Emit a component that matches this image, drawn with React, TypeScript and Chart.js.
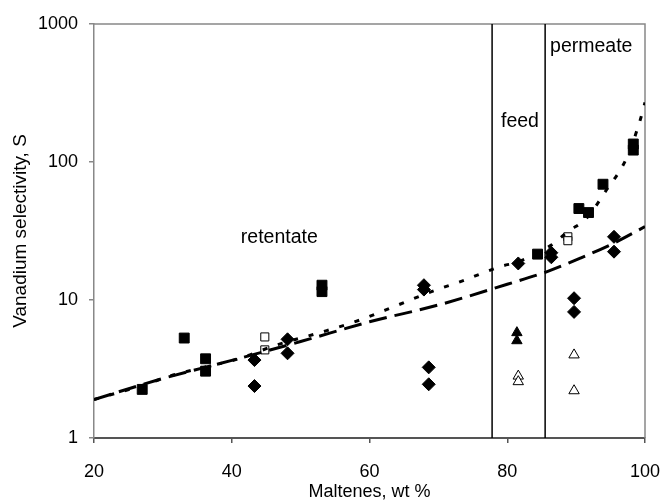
import React, { useEffect, useRef } from "react";
import { Chart, registerables } from "chart.js";

Chart.register(...registerables);

// Measured selectivity, grouped by marker type
const filledSquareX = [27, 33.1, 36.2, 36.2, 53.1, 53.1, 84.4, 90.4, 91.8, 93.9, 98.3, 98.3];
const filledSquareY = [2.25, 5.3, 3.75, 3.05, 12.8, 11.5, 21.5, 46, 43, 69, 122, 135];

const openSquareX = [44.8, 44.8, 88.8, 88.8];
const openSquareY = [5.4, 4.35, 28.7, 26.9];

const diamondX = [43.3, 43.3, 48.1, 48.1, 67.9, 67.9, 68.6, 68.6, 81.6, 86.4, 86.4, 89.7, 89.7, 95.5, 95.5];
const diamondY = [3.67, 2.38, 5.19, 4.11, 12.8, 11.9, 3.25, 2.45, 18.4, 22.0, 20.4, 10.3, 8.2, 28.7, 22.4];

const filledTriangleX = [81.4, 81.4];
const filledTriangleY = [5.8, 5.07];

const openTriangleX = [81.6, 81.6, 89.7, 89.7];
const openTriangleY = [2.81, 2.56, 4.0, 2.2];

// Trend curves
const longDashX = [20, 30, 40, 50, 60, 70, 80, 85.7, 90.6, 95.4, 100];
const longDashY = [1.9, 2.7, 3.65, 5.0, 6.95, 9.2, 13.0, 16.0, 20.1, 25.7, 34];

const shortDashX = [20, 27.2, 31.5, 35.4, 41.2, 46.5, 53.3, 58.6, 63.9, 69, 74.1, 76.3, 79.2, 81.6, 86.4, 88.8, 91.5, 94.4, 97.3, 99.3, 100];
const shortDashY = [1.9, 2.42, 2.86, 3.2, 3.78, 4.72, 5.9, 7.16, 9.1, 11.5, 14.1, 15.6, 17.6, 18.9, 25, 31.3, 39.1, 62.7, 106, 201, 270];

// Boundaries of the feed region (wt % maltenes)
const feedBounds = [77.8, 85.5];

// Axis ticks
const xTicks = [20, 40, 60, 80, 100];
const yTicks = [1, 10, 100, 1000];

// Region labels placed in data coordinates
const regionNames = ["retentate", "feed", "permeate"];
const regionX = [46.9, 81.85, 92.2];
const regionY = [28.2, 195, 680];

const FONT = "'Liberation Sans', Arial, sans-serif";

const pts = (xs: number[], ys: number[]) => xs.map((x, i) => ({ x, y: ys[i] }));

const frameAndLabels = {
  id: "frameAndLabels",
  beforeDatasetsDraw(chart: any) {
    const { ctx, chartArea: a } = chart;
    ctx.save();
    ctx.strokeStyle = "#888";
    ctx.lineWidth = 1.5;
    ctx.beginPath();
    ctx.moveTo(a.left, a.top);
    ctx.lineTo(a.right, a.top);
    ctx.lineTo(a.right, a.bottom);
    ctx.stroke();
    ctx.restore();
  },
  afterDatasetsDraw(chart: any) {
    const { ctx, scales } = chart;
    ctx.save();
    ctx.fillStyle = "#000";
    ctx.font = `19.5px ${FONT}`;
    ctx.textAlign = "center";
    ctx.textBaseline = "middle";
    regionNames.forEach((name, i) => {
      ctx.fillText(name, scales.x.getPixelForValue(regionX[i]), scales.y.getPixelForValue(regionY[i]));
    });
    ctx.restore();
  },
};

export default function App() {
  const ref = useRef<HTMLCanvasElement | null>(null);

  useEffect(() => {
    if (!ref.current) return;
    const markers = (data: any, style: any, radius: number, filled: boolean) => ({
      type: "scatter",
      data,
      showLine: false,
      pointStyle: style,
      pointRadius: radius,
      pointHoverRadius: radius,
      pointBackgroundColor: filled ? "#000" : "#fff",
      pointBorderColor: "#000",
      pointBorderWidth: 1,
    });
    const curve = (data: any, dash: number[]) => ({
      type: "line",
      data,
      showLine: true,
      borderColor: "#000",
      borderWidth: 3,
      borderDash: dash,
      pointRadius: 0,
      cubicInterpolationMode: "monotone",
      fill: false,
    });
    const boundary = (x: number) => ({
      type: "line",
      data: [
        { x, y: yTicks[0] },
        { x, y: yTicks[yTicks.length - 1] },
      ],
      showLine: true,
      borderColor: "#000",
      borderWidth: 1.5,
      pointRadius: 0,
      fill: false,
    });

    const chart = new Chart(ref.current, {
      type: "scatter",
      data: {
        datasets: [
          boundary(feedBounds[0]),
          boundary(feedBounds[1]),
          curve(pts(longDashX, longDashY), [18, 8]),
          curve(pts(shortDashX, shortDashY), [5, 11]),
          markers(pts(openTriangleX, openTriangleY), "triangle", 6, false),
          markers(pts(filledTriangleX, filledTriangleY), "triangle", 6, true),
          markers(pts(diamondX, diamondY), "rectRot", 6.5, true),
          markers(pts(openSquareX, openSquareY), "rect", 5.7, false),
          markers(pts(filledSquareX, filledSquareY), "rect", 7, true),
        ] as any,
      },
      options: {
        animation: false,
        responsive: false,
        maintainAspectRatio: false,
        events: [],
        layout: { padding: { top: 24, right: 18, left: 0, bottom: 0 } },
        plugins: { legend: { display: false }, tooltip: { enabled: false } },
        scales: {
          x: {
            type: "linear",
            min: xTicks[0],
            max: xTicks[xTicks.length - 1],
            afterBuildTicks: (s: any) => {
              s.ticks = xTicks.map((v) => ({ value: v }));
            },
            afterFit: (s: any) => {
              s.height = 66;
              s.paddingLeft = 0;
              s.paddingRight = 0;
            },
            grid: { drawOnChartArea: false, drawTicks: true, tickLength: 5, color: "#555", lineWidth: 1.5 },
            border: { display: true, color: "#555", width: 2 },
            ticks: { color: "#000", font: { family: FONT, size: 18 }, padding: 18, maxRotation: 0 },
            title: { display: true, text: "Maltenes, wt %", color: "#000", font: { family: FONT, size: 18 }, padding: { top: 0, bottom: 1 } },
          },
          y: {
            type: "logarithmic",
            min: yTicks[0],
            max: yTicks[yTicks.length - 1],
            afterBuildTicks: (s: any) => {
              s.ticks = yTicks.map((v) => ({ value: v }));
            },
            afterFit: (s: any) => {
              s.width = 94;
              s.paddingTop = 0;
              s.paddingBottom = 0;
            },
            grid: { drawOnChartArea: false, drawTicks: true, tickLength: 5, color: "#888", lineWidth: 1.5 },
            border: { display: true, color: "#888", width: 1.5 },
            ticks: { color: "#000", font: { family: FONT, size: 18 }, padding: 11, callback: (v: any) => String(v) },
            title: { display: true, text: "Vanadium selectivity, S", color: "#000", font: { family: FONT, size: 19 }, padding: { top: 9, bottom: 0 } },
          },
        },
      } as any,
      plugins: [frameAndLabels],
    });
    return () => chart.destroy();
  }, []);

  return (
    <div style={{ position: "fixed", left: 0, top: 0, width: 663, height: 504, background: "#fff" }}>
      <canvas ref={ref} width={663} height={504} style={{ display: "block", width: 663, height: 504 }} />
    </div>
  );
}
